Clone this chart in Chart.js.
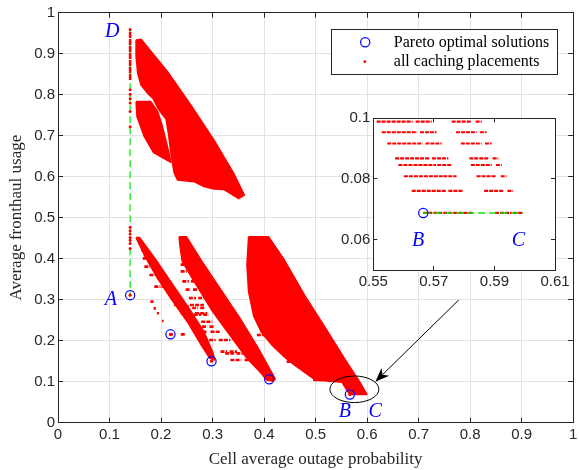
<!DOCTYPE html>
<html>
<head>
<meta charset="utf-8">
<title>Pareto optimal caching</title>
<script src="https://cdn.jsdelivr.net/npm/chart.js@4.4.1/dist/chart.umd.min.js"></script>
<style>
html,body{margin:0;padding:0;background:#fff;overflow:hidden;}
#wrap{position:relative;width:579px;height:470px;}
#wrap canvas{position:absolute;left:0;top:0;}
</style>
</head>
<body>
<div id="wrap">
<canvas id="mainChart" width="579" height="470"></canvas>
<canvas id="insetChart" width="579" height="470"></canvas>
</div>
<script>
// ------------------------- DATA -------------------------
const xTitle = 'Cell average outage probability';
const yTitle = 'Average fronthaul usage';
const legendLabels = ['Pareto optimal solutions', 'all caching placements'];

const xTickValues = [0, 0.1, 0.2, 0.3, 0.4, 0.5, 0.6, 0.7, 0.8, 0.9, 1];
const yTickValues = [0, 0.1, 0.2, 0.3, 0.4, 0.5, 0.6, 0.7, 0.8, 0.9, 1];
const insetXTickValues = [0.55, 0.57, 0.59, 0.61];
const insetYTickValues = [0.06, 0.08, 0.1];

// Pareto optimal solutions (A ... B)
const paretoX = [0.140, 0.2183, 0.298, 0.410, 0.5665];
const paretoY = [0.311, 0.2156, 0.150, 0.106, 0.0688];

// weakly optimal fronts: D -> A (vertical) and B -> C (horizontal)
const frontDAX = [0.14, 0.14];
const frontDAY = [0.962, 0.311];
const frontBCX = [0.5665, 0.5995];
const frontBCY = [0.0688, 0.0688];

// placements lying on the x = 0.14 column
const columnX = 0.14;
const columnSegY = [0.836, 0.962];
const columnDotsY = [0.812, 0.801, 0.790, 0.780, 0.759, 0.722, 0.477, 0.468, 0.460, 0.452, 0.445, 0.437, 0.425];

// dense regions of the placement cloud (outlines)
const cloudUpperX = [0.1516,0.1612,0.2126,0.2576,0.3025,0.3410,0.3616,0.3507,0.3218,0.3025,0.2832,0.2640,0.2319,0.2254,0.2200,0.2150,0.2100,0.1950,0.1850,0.1741,0.1612,0.1548,0.1516];
const cloudUpperY = [0.9334,0.9350,0.8562,0.7749,0.6895,0.6082,0.5554,0.5464,0.5692,0.5700,0.5760,0.5880,0.5920,0.6100,0.6500,0.7000,0.7400,0.7650,0.7900,0.8033,0.8237,0.8521,0.8928];

const cloudUpperLeftX = [0.1516,0.1800,0.1930,0.2020,0.2090,0.2150,0.2190,0.1856,0.1676,0.1535];
const cloudUpperLeftY = [0.7830,0.7830,0.7600,0.7250,0.6900,0.6600,0.6350,0.6586,0.6976,0.7464];

const cloudBand1X = [0.1516,0.1586,0.1901,0.2254,0.2543,0.2832,0.3012,0.3038,0.2948,0.2800,0.2511,0.2190,0.1933,0.1676];
const cloudBand1Y = [0.4513,0.4513,0.3968,0.3318,0.2789,0.2220,0.1692,0.1529,0.1570,0.1855,0.2464,0.3033,0.3521,0.4090];

const cloudBand2X = [0.2351,0.2492,0.2790,0.3530,0.3870,0.4210,0.4168,0.4050,0.3950,0.3650,0.3300,0.3000,0.2800,0.2604,0.2412,0.2370];
const cloudBand2Y = [0.4537,0.4537,0.3940,0.2550,0.1850,0.1080,0.1020,0.1040,0.1200,0.1600,0.2200,0.2716,0.3123,0.3529,0.3936,0.4300];

const cloudRightX = [0.3700,0.4085,0.4374,0.4790,0.5153,0.5558,0.5858,0.5962,0.5995,0.5665,0.5627,0.5583,0.5511,0.5000,0.4600,0.4400,0.4150,0.3950,0.3800,0.3700,0.3668];
const cloudRightY = [0.4537,0.4537,0.4009,0.3100,0.2383,0.1570,0.0989,0.0761,0.0688,0.0688,0.0761,0.0846,0.0989,0.1042,0.1400,0.1600,0.1900,0.2200,0.2600,0.3196,0.3846];

// sparse rows of placements (y level, x start/end pairs)
const rowY = [0.4212,0.4009,0.3806,0.3603,0.3318,0.2952,0.2789,0.2668,0.2481,0.2155,
              0.2871,0.2668,0.2464,0.2220,0.2017,0.1733,0.1529,0.1055,
              0.2139,0.1733,0.1489,0.1042,
              0.3855,0.3692,0.3448,0.3245,0.3042,0.2798,0.2635,
              0.2830,0.2343,0.1692];
const rowX = [
  [0.1612,0.1680,0.1700,0.1741],
  [0.1644,0.1740,0.1760,0.1837],
  [0.1676,0.1790,0.1815,0.1901],
  [0.1773,0.1880,0.1905,0.1998],
  [0.1869,0.1990,0.2010,0.2094],
  [0.1792,0.1856],
  [0.1856,0.1901],
  [0.1920,0.1959],
  [0.2017,0.2049],
  [0.2158,0.2230,0.2383,0.2479],
  [0.2254,0.2500,0.2560,0.2832],
  [0.2383,0.2600,0.2660,0.2897],
  [0.2511,0.2720,0.2780,0.2993],
  [0.2704,0.2900,0.2960,0.3154],
  [0.2832,0.3060,0.3120,0.3346],
  [0.3154,0.3280,0.3330,0.3475],
  [0.3346,0.3560,0.3620,0.3828],
  [0.4100,0.4220],
  [0.3860,0.4050,0.4100,0.4246],
  [0.4374,0.4560,0.4600,0.4759],
  [0.4438,0.4700,0.4750,0.4984],
  [0.4952,0.5150,0.5200,0.5337],
  [0.2380,0.2480,0.2520,0.2604],
  [0.2380,0.2500,0.2540,0.2636],
  [0.2412,0.2540,0.2580,0.2668],
  [0.2476,0.2580,0.2620,0.2701],
  [0.2540,0.2680,0.2720,0.2829],
  [0.2604,0.2720,0.2760,0.2861],
  [0.2636,0.2780,0.2820,0.2925],
  [0.2315,0.2420,0.2460,0.2540],
  [0.2796,0.2900,0.2940,0.3021],
  [0.3245,0.3420,0.3460,0.3598]
];

// inset (zoom on B-C): rows of placements
const insetRowY = [0.0989,0.0954,0.0917,0.0868,0.0846,0.0809,0.0761,0.0688];
const insetRowX = [
  [0.5511,0.5630,0.5640,0.5693,0.5759,0.5825,0.5838,0.5858],
  [0.5528,0.5645,0.5654,0.5709,0.5773,0.5841,0.5852,0.5874],
  [0.5546,0.5663,0.5672,0.5726,0.5789,0.5858,0.5869,0.5891],
  [0.5572,0.5687,0.5694,0.5748,0.5817,0.5880,0.5894,0.5913],
  [0.5583,0.5707,0.5711,0.5759,0.5822,0.5891,0.5905,0.5924],
  [0.5601,0.5729,0.5731,0.5775,0.5841,0.5907,0.5921,0.5940],
  [0.5627,0.5742,0.5748,0.5797,0.5866,0.5929,0.5943,0.5962],
  [0.5665,0.5830,0.5902,0.5957,0.5962,0.5995]
];

// ------------------------- STYLE / ANNOTATION CONFIG -------------------------
const RED = '#ff0000', BLUE = '#0000ff', GREEN = '#00e600', AX = '#262626', GRID = '#e2e2e2';
const SANS = '"Liberation Sans", Arial, sans-serif';
const SERIF = '"Liberation Serif", "Times New Roman", serif';

const mainAnnot = {
  labels: [{t:'D', x:0.1054, y:0.9537}, {t:'A', x:0.1024, y:0.300}, {t:'B', x:0.557, y:0.0257}, {t:'C', x:0.6157, y:0.0257}],
  ellipse: {cx:0.5753, cy:0.0815, rx:0.0475, ry:0.0324},
  arrow: {x1:0.7778, y1:0.2993, x2:0.6160, y2:0.1000},
  legend: {w:226, h:44.7, offRight:16, offTop:16.3}
};
const insetAnnot = {
  labels: [{t:'B', x:0.5648, y:0.0597}, {t:'C', x:0.5979, y:0.0597}]
};

// ------------------------- HELPERS -------------------------
const fmt = v => String(Math.round(v * 100) / 100);
const pts = (xs, ys) => xs.map((x, i) => ({x: x, y: ys[i]}));
const closed = (xs, ys) => { const p = pts(xs, ys); p.push({x: xs[0], y: ys[0]}); return p; };
function rowsData(ys, xsList) {
  const out = [];
  ys.forEach((y, i) => {
    const xs = xsList[i];
    for (let k = 0; k + 1 < xs.length; k += 2) {
      out.push({x: xs[k], y: y}, {x: xs[k + 1], y: y}, {x: xs[k + 1], y: null});
    }
  });
  return out;
}
function lineDs(data, color, width, extra) {
  return Object.assign({type: 'scatter', data: data, showLine: true, borderColor: color, backgroundColor: color,
    borderWidth: width, pointRadius: 0, pointHoverRadius: 0, fill: false, tension: 0, spanGaps: false}, extra || {});
}
function polyDs(xs, ys) {
  return lineDs(closed(xs, ys), RED, 1.6, {fill: 'shape', order: 3, borderJoinStyle: 'round'});
}
const alignPx = v => Math.round(v - 0.5) + 0.5;

// box + inward ticks (MATLAB style)
const boxPlugin = {
  id: 'boxTicks',
  beforeDraw(chart, args, o) {
    if (!o || !o.fill) return;
    const a = chart.chartArea, c = chart.ctx;
    c.save(); c.fillStyle = o.fill; c.fillRect(a.left, a.top, a.right - a.left, a.bottom - a.top); c.restore();
  },
  afterDatasetsDraw(chart, args, o) {
    const a = chart.chartArea, c = chart.ctx, xs = chart.scales.x, ys = chart.scales.y, L = (o && o.len) || 5;
    c.save();
    c.strokeStyle = AX; c.lineWidth = 1;
    c.beginPath();
    xs.ticks.forEach(t => {
      const p = alignPx(xs.getPixelForValue(t.value));
      c.moveTo(p, a.bottom); c.lineTo(p, a.bottom - L);
      c.moveTo(p, a.top); c.lineTo(p, a.top + L);
    });
    ys.ticks.forEach(t => {
      const p = alignPx(ys.getPixelForValue(t.value));
      c.moveTo(a.left, p); c.lineTo(a.left + L, p);
      c.moveTo(a.right, p); c.lineTo(a.right - L, p);
    });
    c.stroke();
    const l = alignPx(a.left), t = alignPx(a.top), r = alignPx(a.right), b = alignPx(a.bottom);
    c.strokeRect(l, t, r - l, b - t);
    c.restore();
  }
};

const annotPlugin = {
  id: 'annot',
  afterDraw(chart, args, o) {
    if (!o) return;
    const c = chart.ctx, xs = chart.scales.x, ys = chart.scales.y;
    const px = v => xs.getPixelForValue(v), py = v => ys.getPixelForValue(v);
    c.save();
    if (o.ellipse) {
      const e = o.ellipse;
      c.beginPath();
      c.ellipse(px(e.cx), py(e.cy), Math.abs(px(e.cx + e.rx) - px(e.cx)), Math.abs(py(e.cy + e.ry) - py(e.cy)), 0, 0, Math.PI * 2);
      c.strokeStyle = '#000'; c.lineWidth = 1; c.stroke();
    }
    if (o.arrow) {
      const ar = o.arrow;
      const x1 = px(ar.x1), y1 = py(ar.y1), x2 = px(ar.x2), y2 = py(ar.y2);
      const ang = Math.atan2(y2 - y1, x2 - x1), cs = Math.cos(ang), sn = Math.sin(ang);
      const len = 14, hw = 5.5, back = 4;
      c.strokeStyle = '#000'; c.fillStyle = '#000'; c.lineWidth = 1;
      c.beginPath(); c.moveTo(x1, y1); c.lineTo(x2 - (len - back) * cs, y2 - (len - back) * sn); c.stroke();
      const bx = x2 - len * cs, by = y2 - len * sn;
      c.beginPath();
      c.moveTo(x2, y2);
      c.lineTo(bx - hw * sn, by + hw * cs);
      c.lineTo(x2 - (len - back) * cs, y2 - (len - back) * sn);
      c.lineTo(bx + hw * sn, by - hw * cs);
      c.closePath(); c.fill();
    }
    (o.labels || []).forEach(lb => {
      c.font = 'italic 20px ' + SERIF; c.fillStyle = BLUE; c.textAlign = 'center'; c.textBaseline = 'middle';
      c.fillText(lb.t, px(lb.x), py(lb.y));
    });
    if (o.legend) {
      const a = chart.chartArea, L = o.legend;
      const x0 = a.right - L.offRight - L.w, y0 = a.top + L.offTop;
      c.fillStyle = '#fff'; c.fillRect(x0, y0, L.w, L.h);
      c.strokeStyle = AX; c.lineWidth = 1; c.strokeRect(alignPx(x0), alignPx(y0), Math.round(L.w), Math.round(L.h));
      c.beginPath(); c.arc(x0 + 34, y0 + 13.3, 4.6, 0, Math.PI * 2); c.strokeStyle = BLUE; c.lineWidth = 1.2; c.stroke();
      c.beginPath(); c.arc(x0 + 33.6, y0 + 32.7, 1.4, 0, Math.PI * 2); c.fillStyle = RED; c.fill();
      c.font = '16px ' + SERIF; c.fillStyle = '#000'; c.textAlign = 'left'; c.textBaseline = 'alphabetic';
      c.fillText(legendLabels[0], x0 + 62.6, y0 + 17.7);
      c.fillText(legendLabels[1], x0 + 62.6, y0 + 37);
    }
    c.restore();
  }
};

function axisCfg(min, max, tickVals, extra) {
  return Object.assign({
    type: 'linear', min: min, max: max,
    afterBuildTicks: s => { s.ticks = tickVals.map(v => ({value: v})); },
    border: {display: false},
    ticks: {autoSkip: false, maxRotation: 0, minRotation: 0, color: AX, font: {family: SANS, size: 15}, callback: v => fmt(v)}
  }, extra);
}

// ------------------------- MAIN CHART -------------------------
const mainDatasets = [
  {type: 'scatter', data: pts(paretoX, paretoY), pointStyle: 'circle', pointRadius: 4.6, pointBorderWidth: 1.2,
   borderColor: BLUE, backgroundColor: 'rgba(0,0,0,0)', pointBackgroundColor: 'rgba(0,0,0,0)', order: 0},
  {type: 'scatter', data: pts(paretoX, paretoY), pointRadius: 1.6, borderWidth: 0, backgroundColor: RED, order: 1},
  {type: 'scatter', data: columnDotsY.map(y => ({x: columnX, y: y})), pointRadius: 1.5, borderWidth: 0, backgroundColor: RED, order: 2},
  lineDs(columnSegY.map(y => ({x: columnX, y: y})), RED, 2.6, {order: 2, borderDash: [6, 1]}),
  polyDs(cloudUpperX, cloudUpperY),
  polyDs(cloudUpperLeftX, cloudUpperLeftY),
  polyDs(cloudBand1X, cloudBand1Y),
  polyDs(cloudBand2X, cloudBand2Y),
  polyDs(cloudRightX, cloudRightY),
  lineDs(rowsData(rowY, rowX), RED, 2.6, {order: 3, borderDash: [4, 1.2]}),
  lineDs(pts(frontDAX, frontDAY), GREEN, 1.2, {borderDash: [7, 4], order: 4})
];

new Chart(document.getElementById('mainChart'), {
  type: 'scatter',
  data: {datasets: mainDatasets},
  options: {
    responsive: false, animation: false, devicePixelRatio: 1, events: [],
    layout: {padding: {top: 12.7, right: 1.3, left: 0, bottom: 0}},
    plugins: {legend: {display: false}, tooltip: {enabled: false}, boxTicks: {len: 5}, annot: mainAnnot},
    scales: {
      x: axisCfg(0, 1, xTickValues, {
        position: 'bottom',
        afterFit: s => { s.height = 47.3; s.paddingLeft = 0; s.paddingRight = 0; },
        grid: {color: GRID, lineWidth: 1, drawTicks: false},
        title: {display: true, text: xTitle, color: AX, font: {family: SERIF, size: 17}, padding: {top: 0, bottom: 0}}
      }),
      y: axisCfg(0, 1, yTickValues, {
        position: 'left',
        afterFit: s => { s.width = 58; s.paddingTop = 0; s.paddingBottom = 0; },
        grid: {color: GRID, lineWidth: 1, drawTicks: false},
        title: {display: true, text: yTitle, color: AX, font: {family: SERIF, size: 17}, padding: {top: 6, bottom: 0}}
      })
    }
  },
  plugins: [boxPlugin, annotPlugin]
});

// ------------------------- INSET CHART -------------------------
const insetDatasets = [
  {type: 'scatter', data: pts(paretoX, paretoY), pointStyle: 'circle', pointRadius: 4.6, pointBorderWidth: 1.2,
   borderColor: BLUE, backgroundColor: 'rgba(0,0,0,0)', pointBackgroundColor: 'rgba(0,0,0,0)', order: 0},
  lineDs(pts(frontBCX, frontBCY), GREEN, 1.4, {borderDash: [7, 4], order: 1}),
  lineDs(rowsData(insetRowY, insetRowX), RED, 2.2, {order: 2, borderDash: [4, 1]})
];

new Chart(document.getElementById('insetChart'), {
  type: 'scatter',
  data: {datasets: insetDatasets},
  options: {
    responsive: false, animation: false, devicePixelRatio: 1, events: [],
    layout: {padding: {top: 118.3, right: 24, left: 323.3, bottom: 170}},
    plugins: {legend: {display: false}, tooltip: {enabled: false}, boxTicks: {len: 4, fill: '#ffffff'}, annot: insetAnnot},
    scales: {
      x: axisCfg(0.55, 0.61, insetXTickValues, {
        position: 'bottom',
        afterFit: s => { s.height = 30; s.paddingLeft = 0; s.paddingRight = 0; },
        grid: {display: false, drawTicks: false}
      }),
      y: axisCfg(0.05, 0.1, insetYTickValues, {
        position: 'left',
        afterFit: s => { s.width = 50; s.paddingTop = 0; s.paddingBottom = 0; },
        grid: {display: false, drawTicks: false}
      })
    }
  },
  plugins: [boxPlugin, annotPlugin]
});
</script>
</body>
</html>
